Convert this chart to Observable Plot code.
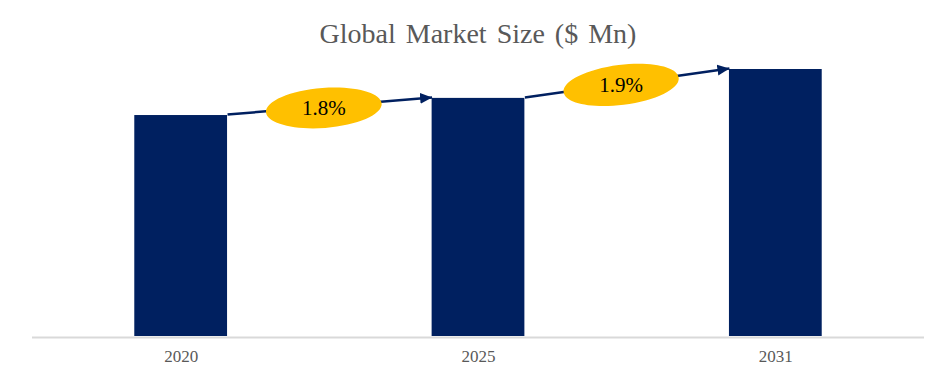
<!DOCTYPE html>
<html>
<head>
<meta charset="utf-8">
<script src="https://cdn.jsdelivr.net/npm/d3@7"></script>
<script src="https://cdn.jsdelivr.net/npm/@observablehq/plot@0.6"></script>
<style>
  html, body { margin: 0; padding: 0; background: #ffffff; }
  #chart { width: 952px; height: 365px; overflow: hidden; }
  #title {
    box-sizing: border-box; height: 46px; padding-top: 22px;
    font-family: "Liberation Serif", "Times New Roman", serif;
    font-size: 28px; line-height: 24px; color: #595959;
    text-align: center; word-spacing: 3px; padding-left: 4px;
  }
  svg { display: block; }
</style>
</head>
<body>
<div id="chart">
  <div id="title">Global Market Size ($ Mn)</div>
</div>
<script>
// ---- data ----
const years = ["2020", "2025", "2031"];
const marketSize = [1109, 1195, 1340];
const cagrLabels = ["1.8%", "1.9%"];

// ---- tables built from the arrays ----
const bars = years.map((year, i) => ({i, year, value: marketSize[i]}));
const growth = cagrLabels.map((label, i) => ({
  from: i, to: i + 1, v1: marketSize[i], v2: marketSize[i + 1], label
}));

// ---- layout / style ----
const W = 952, H = 319;
const mL = 32, mR = 28, mT = 23, mB = 29;
const xDomain = [-0.5, years.length - 0.5];
const yDomain = [0, 1340];
const halfBar = 0.156;
const navy = "#002060", gold = "#FFC000";
const serif = "'Liberation Serif', 'Times New Roman', serif";

const sx = Plot.scale({x: {type: "linear", domain: xDomain, range: [mL, W - mR]}});
const sy = Plot.scale({y: {type: "linear", domain: yDomain, range: [H - mB, mT]}});

function ellipseSymbol(rx, ry, angleDeg) {
  const a = angleDeg * Math.PI / 180, c = Math.cos(a), s = Math.sin(a), k = 0.5523;
  const p = (x, y) => [x * c - y * s, x * s + y * c];
  return {
    draw(ctx) {
      ctx.moveTo(...p(rx, 0));
      ctx.bezierCurveTo(...p(rx, k * ry), ...p(k * rx, ry), ...p(0, ry));
      ctx.bezierCurveTo(...p(-k * rx, ry), ...p(-rx, k * ry), ...p(-rx, 0));
      ctx.bezierCurveTo(...p(-rx, -k * ry), ...p(-k * rx, -ry), ...p(0, -ry));
      ctx.bezierCurveTo(...p(k * rx, -ry), ...p(rx, -k * ry), ...p(rx, 0));
      ctx.closePath();
    }
  };
}

const ellipseMarks = growth.map(g => {
  const px1 = sx.apply(g.from + halfBar), px2 = sx.apply(g.to - halfBar);
  const py1 = sy.apply(g.v1), py2 = sy.apply(g.v2);
  const ang = Math.atan2(py2 - py1, px2 - px1) * 180 / Math.PI * 0.9;
  return Plot.dot([g], {
    x: d => (d.from + d.to) / 2,
    y: d => (d.v1 + d.v2) / 2,
    symbol: ellipseSymbol(58, 20, ang),
    r: 10, fill: gold, stroke: "none", dx: -6, dy: 1
  });
});

const plot = Plot.plot({
  width: W, height: H,
  marginLeft: mL, marginRight: mR, marginTop: mT, marginBottom: mB,
  style: {fontFamily: serif, fontSize: "17px", color: "#595959", background: "#ffffff"},
  x: {type: "linear", domain: xDomain, ticks: years.map((_, i) => i), tickFormat: i => years[i], tickSize: 0, tickPadding: 13, label: null},
  y: {type: "linear", domain: yDomain, axis: null},
  marks: [
    Plot.rectY(bars, {x1: d => d.i - halfBar, x2: d => d.i + halfBar, y: "value", fill: navy}),
    Plot.ruleY([0], {stroke: "#D9D9D9", strokeWidth: 2, dy: 1}),
    Plot.link(growth, {
      x1: d => d.from + halfBar, y1: "v1",
      x2: d => d.to - halfBar, y2: "v2",
      stroke: navy, strokeWidth: 2.5, markerEnd: "arrow", dy: -1
    }),
    ...ellipseMarks,
    Plot.text(growth, {
      x: d => (d.from + d.to) / 2, y: d => (d.v1 + d.v2) / 2,
      text: "label", fontSize: 21, fontFamily: serif, fill: "#000000", dx: -6, dy: 1
    })
  ]
});

// filled triangular arrowhead
plot.querySelectorAll("marker").forEach(m => {
  m.setAttribute("viewBox", "-12 -6 12 12");
  m.setAttribute("markerUnits", "userSpaceOnUse");
  m.setAttribute("markerWidth", "12");
  m.setAttribute("markerHeight", "12");
  m.setAttribute("refX", "0");
  m.setAttribute("refY", "0");
  m.setAttribute("fill", navy);
  m.setAttribute("stroke", "none");
  const path = m.querySelector("path");
  if (path) path.setAttribute("d", "M-12,-5.5L0,0L-12,5.5Z");
});

document.getElementById("chart").appendChild(plot);
</script>
</body>
</html>
